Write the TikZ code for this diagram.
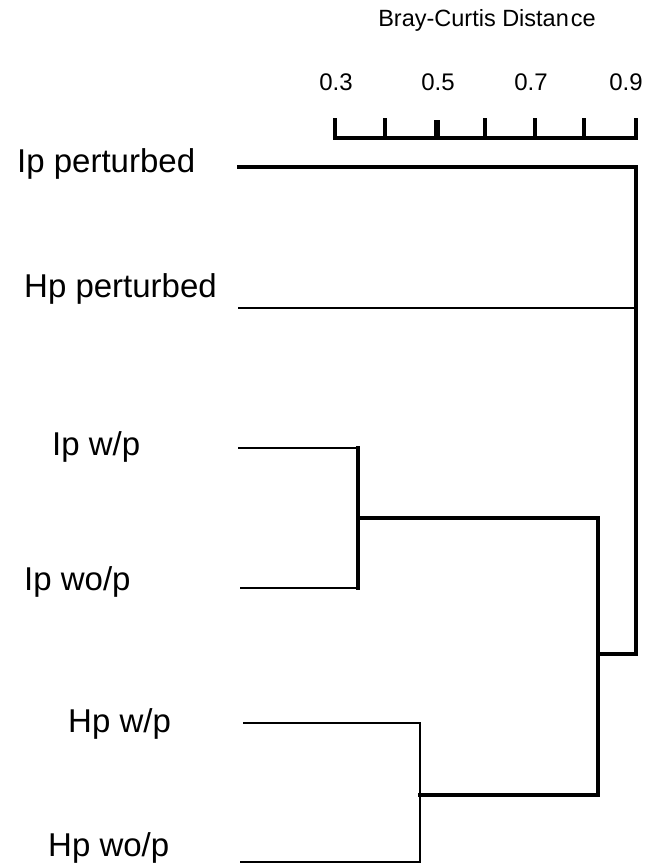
\documentclass[tikz,border=0pt]{standalone}
\usepackage{fontspec}
\setmainfont{Liberation Sans}
\begin{document}
\begin{tikzpicture}[x=1pt,y=-1pt,
  leaf/.style={anchor=base west,inner sep=0pt,font=\fontsize{33}{36}\selectfont},
  ticklabel/.style={anchor=base,inner sep=0pt,font=\fontsize{24}{28}\selectfont},
  heavy/.style={line width=4.6pt,line cap=rect},
  medium/.style={line width=3.6pt,line cap=rect},
  light/.style={line width=2.6pt,line cap=rect}]
\useasboundingbox (0,0) rectangle (646,867);

% axis scale
\node[anchor=base,inner sep=0pt,font=\fontsize{23.5}{26}\selectfont] (title) at (487,27) {Bray-Curtis Distan\kern2pt ce};
\node[ticklabel] (l3) at (336,90) {0.3};
\node[ticklabel] (l5) at (438,90) {0.5};
\node[ticklabel] (l7) at (531,90) {0.7};
\node[ticklabel] (l9) at (626,90) {0.9};
\coordinate (a0) at (335,138);
\coordinate (a6) at (636,138);
\draw[heavy] (a0) -- (a6);
\foreach \x in {335,385,485,535,584,636}
  \draw[medium] (\x,120) -- (\x,138);
\draw[line width=5.5pt] (437,120) -- (437,138);

% leaf labels
\node[leaf] (ipp)  at (17,172) {Ip perturbed};
\node[leaf] (hpp)  at (24,297) {Hp perturbed};
\node[leaf] (ipw)  at (52,455) {Ip w/p};
\node[leaf] (ipwo) at (24,590) {Ip wo/p};
\node[leaf] (hpw)  at (68,732) {Hp w/p};
\node[leaf] (hpwo) at (48,856) {Hp wo/p};

% leaf ends
\coordinate (e1) at (239,167);
\coordinate (e2) at (239,308);
\coordinate (e3) at (239,448);
\coordinate (e4) at (241,588);
\coordinate (e5) at (244,723);
\coordinate (e6) at (241,862);

% joins
\coordinate (j1) at (358,518);  % Ip w/p + Ip wo/p
\coordinate (j2) at (420,795);  % Hp w/p + Hp wo/p
\coordinate (j3) at (598,654);  % Ip pair + Hp pair
\coordinate (j4) at (636,654);  % root

% branches
\draw[heavy] (e1) -- (e1 -| j4) -- (j4);
\draw[light] (e2) -- (e2 -| j4);
\draw[light] (e3) -- (e3 -| j1);
\draw[light] (e4) -- (e4 -| j1);
\draw[medium] (e3 -| j1) -- (e4 -| j1);
\draw[heavy] (j1) -- (j1 -| j3) -- (j2 -| j3);
\draw[light] (e5) -- (e5 -| j2) -- (e6 -| j2) -- (e6);
\draw[heavy] (j2) -- (j2 -| j3);
\draw[heavy] (j3) -- (j4);
\end{tikzpicture}
\end{document}
